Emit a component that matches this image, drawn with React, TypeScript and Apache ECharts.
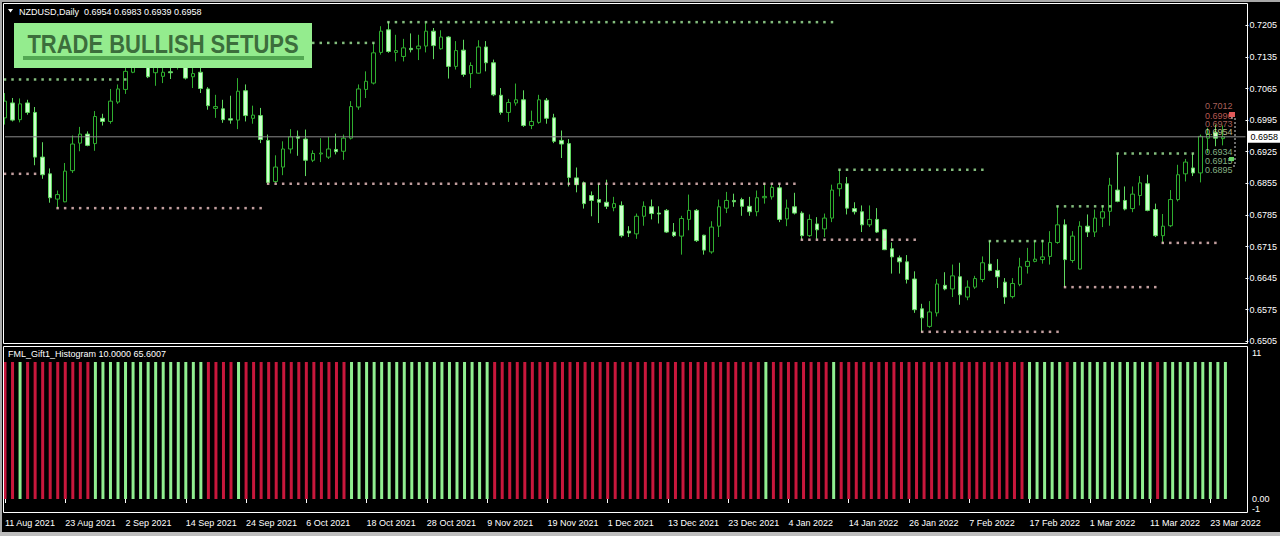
import React, { useEffect, useRef } from "react";
import * as echarts from "echarts";

const SYMBOL_TITLE = "NZDUSD,Daily";
const INDICATOR_TITLE = "FML_Gift1_Histogram 10.0000 65.6007";
const SETUP_BANNER = "TRADE BULLISH SETUPS";

// Daily NZDUSD bars starting 11 Aug 2021: [open, close, low, high]
const CANDLES: [number, number, number, number][] = [
  [0.7000, 0.7037, 0.6985, 0.7055], [0.7033, 0.6995, 0.6992, 0.7044], [0.6996, 0.7031, 0.6990, 0.7043],
  [0.7033, 0.7012, 0.7007, 0.7040], [0.7012, 0.6913, 0.6895, 0.7024], [0.6913, 0.6874, 0.6865, 0.6946],
  [0.6876, 0.6823, 0.6812, 0.6888], [0.6820, 0.6830, 0.6800, 0.6839], [0.6814, 0.6882, 0.6813, 0.6900],
  [0.6883, 0.6942, 0.6878, 0.6961], [0.6944, 0.6964, 0.6926, 0.6980], [0.6964, 0.6939, 0.6937, 0.6970],
  [0.6943, 0.7003, 0.6927, 0.7015], [0.6999, 0.6992, 0.6983, 0.7009], [0.6992, 0.7037, 0.6987, 0.7064],
  [0.7035, 0.7064, 0.7031, 0.7074], [0.7063, 0.7103, 0.7053, 0.7114], [0.7101, 0.7150, 0.7099, 0.7160],
  [0.7150, 0.7140, 0.7120, 0.7166], [0.7140, 0.7091, 0.7088, 0.7150], [0.7100, 0.7125, 0.7071, 0.7135],
  [0.7092, 0.7101, 0.7077, 0.7125], [0.7102, 0.7100, 0.7086, 0.7125], [0.7115, 0.7130, 0.7107, 0.7145],
  [0.7130, 0.7088, 0.7085, 0.7140], [0.7091, 0.7098, 0.7066, 0.7115], [0.7101, 0.7065, 0.7055, 0.7113],
  [0.7064, 0.7027, 0.7018, 0.7068], [0.7021, 0.7025, 0.7000, 0.7051], [0.7020, 0.6996, 0.6989, 0.7040],
  [0.6998, 0.6995, 0.6987, 0.7049], [0.6995, 0.7059, 0.6975, 0.7088], [0.7060, 0.7005, 0.6992, 0.7074],
  [0.6999, 0.7006, 0.6987, 0.7027], [0.7005, 0.6952, 0.6944, 0.7022], [0.6950, 0.6857, 0.6854, 0.6963],
  [0.6859, 0.6891, 0.6856, 0.6917], [0.6891, 0.6931, 0.6873, 0.6948], [0.6931, 0.6958, 0.6921, 0.6975],
  [0.6959, 0.6955, 0.6916, 0.6972], [0.6953, 0.6906, 0.6871, 0.6974], [0.6906, 0.6921, 0.6902, 0.6928],
  [0.6920, 0.6922, 0.6902, 0.6955], [0.6913, 0.6931, 0.6909, 0.6958], [0.6930, 0.6925, 0.6919, 0.6965],
  [0.6926, 0.6955, 0.6907, 0.6963], [0.6955, 0.7025, 0.6952, 0.7037], [0.7024, 0.7064, 0.7018, 0.7074],
  [0.7063, 0.7081, 0.7044, 0.7103], [0.7077, 0.7144, 0.7074, 0.7166], [0.7145, 0.7192, 0.7140, 0.7203],
  [0.7195, 0.7147, 0.7144, 0.7212], [0.7145, 0.7149, 0.7125, 0.7184], [0.7136, 0.7155, 0.7125, 0.7175],
  [0.7154, 0.7151, 0.7145, 0.7187], [0.7153, 0.7159, 0.7128, 0.7184], [0.7159, 0.7192, 0.7145, 0.7210],
  [0.7192, 0.7160, 0.7130, 0.7199], [0.7153, 0.7179, 0.7151, 0.7194], [0.7179, 0.7114, 0.7087, 0.7181],
  [0.7114, 0.7149, 0.7107, 0.7170], [0.7150, 0.7096, 0.7091, 0.7173], [0.7098, 0.7116, 0.7066, 0.7123],
  [0.7099, 0.7157, 0.7098, 0.7172], [0.7157, 0.7122, 0.7103, 0.7170], [0.7122, 0.7051, 0.7048, 0.7129],
  [0.7050, 0.7012, 0.7007, 0.7066], [0.7012, 0.7034, 0.6991, 0.7042], [0.7033, 0.7040, 0.7027, 0.7076],
  [0.7040, 0.6983, 0.6980, 0.7061], [0.6983, 0.6992, 0.6975, 0.7016], [0.6990, 0.7040, 0.6987, 0.7051],
  [0.7039, 0.6999, 0.6987, 0.7044], [0.7000, 0.6948, 0.6944, 0.7009], [0.6950, 0.6942, 0.6911, 0.6972],
  [0.6943, 0.6868, 0.6848, 0.6953], [0.6867, 0.6852, 0.6835, 0.6890], [0.6856, 0.6810, 0.6799, 0.6859],
  [0.6828, 0.6817, 0.6782, 0.6837], [0.6819, 0.6813, 0.6767, 0.6854], [0.6813, 0.6804, 0.6798, 0.6863],
  [0.6801, 0.6810, 0.6793, 0.6825], [0.6806, 0.6739, 0.6735, 0.6815], [0.6749, 0.6745, 0.6736, 0.6760],
  [0.6743, 0.6782, 0.6732, 0.6788], [0.6782, 0.6804, 0.6761, 0.6815], [0.6803, 0.6788, 0.6775, 0.6819],
  [0.6789, 0.6787, 0.6766, 0.6804], [0.6795, 0.6747, 0.6745, 0.6798], [0.6747, 0.6739, 0.6736, 0.6767],
  [0.6738, 0.6777, 0.6697, 0.6783], [0.6775, 0.6795, 0.6751, 0.6830], [0.6795, 0.6728, 0.6725, 0.6798],
  [0.6740, 0.6707, 0.6697, 0.6741], [0.6703, 0.6758, 0.6699, 0.6771], [0.6760, 0.6803, 0.6736, 0.6819],
  [0.6800, 0.6817, 0.6789, 0.6836], [0.6817, 0.6814, 0.6803, 0.6832], [0.6819, 0.6804, 0.6783, 0.6823],
  [0.6804, 0.6792, 0.6783, 0.6825], [0.6792, 0.6823, 0.6782, 0.6839], [0.6823, 0.6826, 0.6810, 0.6856],
  [0.6825, 0.6846, 0.6819, 0.6852], [0.6845, 0.6775, 0.6769, 0.6854], [0.6776, 0.6800, 0.6760, 0.6819],
  [0.6803, 0.6789, 0.6786, 0.6834], [0.6789, 0.6739, 0.6730, 0.6793], [0.6739, 0.6775, 0.6736, 0.6786],
  [0.6765, 0.6752, 0.6732, 0.6780], [0.6754, 0.6778, 0.6736, 0.6788], [0.6778, 0.6840, 0.6769, 0.6852],
  [0.6843, 0.6854, 0.6826, 0.6885], [0.6854, 0.6800, 0.6786, 0.6869], [0.6799, 0.6792, 0.6786, 0.6813],
  [0.6792, 0.6763, 0.6747, 0.6806], [0.6763, 0.6775, 0.6758, 0.6806], [0.6775, 0.6747, 0.6745, 0.6800],
  [0.6752, 0.6708, 0.6707, 0.6754], [0.6710, 0.6692, 0.6655, 0.6724], [0.6690, 0.6681, 0.6655, 0.6695],
  [0.6681, 0.6642, 0.6633, 0.6696], [0.6643, 0.6575, 0.6568, 0.6660], [0.6577, 0.6557, 0.6526, 0.6588],
  [0.6538, 0.6570, 0.6535, 0.6594], [0.6568, 0.6632, 0.6560, 0.6643], [0.6629, 0.6621, 0.6618, 0.6658],
  [0.6621, 0.6650, 0.6603, 0.6675], [0.6648, 0.6608, 0.6586, 0.6679], [0.6603, 0.6625, 0.6596, 0.6640],
  [0.6625, 0.6644, 0.6621, 0.6650], [0.6642, 0.6679, 0.6636, 0.6693], [0.6676, 0.6662, 0.6660, 0.6727],
  [0.6662, 0.6648, 0.6623, 0.6687], [0.6636, 0.6603, 0.6588, 0.6645], [0.6604, 0.6633, 0.6600, 0.6645],
  [0.6631, 0.6670, 0.6627, 0.6690], [0.6671, 0.6682, 0.6655, 0.6712], [0.6682, 0.6687, 0.6680, 0.6727],
  [0.6686, 0.6692, 0.6677, 0.6730], [0.6693, 0.6724, 0.6675, 0.6749], [0.6724, 0.6763, 0.6721, 0.6804],
  [0.6763, 0.6686, 0.6625, 0.6775], [0.6684, 0.6738, 0.6679, 0.6749], [0.6665, 0.6760, 0.6664, 0.6771],
  [0.6760, 0.6747, 0.6736, 0.6786], [0.6747, 0.6778, 0.6736, 0.6797], [0.6778, 0.6792, 0.6758, 0.6806],
  [0.6793, 0.6851, 0.6761, 0.6867], [0.6840, 0.6815, 0.6813, 0.6921], [0.6817, 0.6798, 0.6795, 0.6848],
  [0.6799, 0.6831, 0.6791, 0.6848], [0.6828, 0.6856, 0.6806, 0.6871], [0.6854, 0.6795, 0.6793, 0.6874],
  [0.6797, 0.6739, 0.6736, 0.6810], [0.6739, 0.6760, 0.6723, 0.6787], [0.6761, 0.6819, 0.6758, 0.6840],
  [0.6819, 0.6874, 0.6815, 0.6896], [0.6876, 0.6902, 0.6859, 0.6909], [0.6889, 0.6878, 0.6871, 0.6921],
  [0.6878, 0.6959, 0.6857, 0.6963], [0.6955, 0.6964, 0.6922, 0.6978], [0.6967, 0.6955, 0.6937, 0.6985],
  [0.6954, 0.6958, 0.6939, 0.6983],
];

// One label every 8 bars along the time axis
const DATE_LABELS = [
  "11 Aug 2021", "23 Aug 2021", "2 Sep 2021", "14 Sep 2021", "24 Sep 2021", "6 Oct 2021",
  "18 Oct 2021", "28 Oct 2021", "9 Nov 2021", "19 Nov 2021", "1 Dec 2021", "13 Dec 2021",
  "23 Dec 2021", "4 Jan 2022", "14 Jan 2022", "26 Jan 2022", "7 Feb 2022", "17 Feb 2022",
  "1 Mar 2022", "11 Mar 2022", "23 Mar 2022",
];
const BARS_PER_LABEL = 8;
const EMPTY_BARS_RIGHT = 3;

// Histogram state per bar: G = bullish, R = bearish; every column is drawn at HIST_VALUE
const HIST_STATE = [
  "RR", "G", "RRRRRRRRR",
  "GGGGGGGGGG" + "GGGGG",
  "RRRR", "G",
  "RRRRRRRRRR" + "RRRR",
  "GGGGGGGGGG" + "GGGGGGGGG",
  "RRRRRRRRRR" + "RRRRRRRRRR" + "RRRRRRRRRR" + "RRRRRR",
  "G", "RRRRRRRR", "G",
  "RRRRRRRRRR" + "RRRRRRRRRR" + "RRRRR",
  "GGGGG", "R",
  "GGGGGGGGGG" + "G",
  "R",
  "GGGGGGGGG",
].join("").split("");
const HIST_VALUE = 10;

// Swing levels, drawn as one dot per bar: [fromBar, toBar, price]
const RESISTANCE_LEVELS: [number, number, number][] = [
  [0, 16, 0.7085], [18, 49, 0.7166], [51, 110, 0.7212], [111, 130, 0.6885],
  [131, 138, 0.6727], [140, 147, 0.6804], [148, 158, 0.6921],
];
const SUPPORT_LEVELS: [number, number, number][] = [
  [0, 4, 0.6876], [7, 34, 0.6800], [35, 105, 0.6854], [106, 121, 0.6730],
  [122, 140, 0.6526], [141, 153, 0.6625], [154, 161, 0.6723],
];

// Price tags at the right edge of the latest bars
const TAGS_ABOVE = [0.7012, 0.6990, 0.6973, 0.6954];
const TAGS_BELOW = [0.6934, 0.6915, 0.6895];
const TAG_ANCHOR_BAR = 163;

const PRICE_MIN = 0.6505;
const PRICE_MAX = 0.72522;
const PRICE_STEP = 0.007;

const FONT = '"Liberation Sans", Arial, sans-serif';
const BULL_GREEN = "#90ee90";
const BEAR_RED = "#c8173c";

function levelDots(levels: [number, number, number][]) {
  const pts: [number, number][] = [];
  levels.forEach(([from, to, price]) => {
    for (let b = from; b <= to; b++) pts.push([b, price]);
  });
  return pts;
}

function buildOption(): echarts.EChartsOption {
  const barCount = CANDLES.length + EMPTY_BARS_RIGHT;
  const categories = Array.from({ length: barCount }, (_, i) => String(i));
  const last = CANDLES[CANDLES.length - 1];
  const lastClose = last[1];
  const header = `${SYMBOL_TITLE}  ${[last[0], last[3], last[2], last[1]].map((v) => v.toFixed(4)).join(" ")}`;
  const tagColorsAbove = ["#d27a70", "#e07068", "#d27a70", "#e8e6b8"];
  const tagColorBelow = "#a6dca6";

  return {
    animation: false,
    backgroundColor: "#000000",
    grid: [
      { left: 5, right: 32, top: 4, height: 337.3 },
      { left: 5, right: 32, top: 348.3, height: 164.4 },
    ],
    xAxis: [
      { type: "category", gridIndex: 0, data: categories, boundaryGap: false, show: false },
      {
        type: "category",
        gridIndex: 1,
        data: categories,
        boundaryGap: false,
        axisLine: { show: false },
        axisTick: { show: true, interval: BARS_PER_LABEL - 1, length: 4, lineStyle: { color: "#ffffff" } },
        axisLabel: {
          interval: BARS_PER_LABEL - 1,
          align: "left",
          margin: 6,
          color: "#ffffff",
          fontSize: 9,
          fontFamily: FONT,
          formatter: (v: string) => {
            const i = Number(v);
            return i % BARS_PER_LABEL === 0 ? DATE_LABELS[i / BARS_PER_LABEL] ?? "" : "";
          },
        },
        splitLine: { show: false },
      },
    ],
    yAxis: [
      {
        type: "value",
        gridIndex: 0,
        position: "right",
        min: PRICE_MIN,
        max: PRICE_MAX,
        interval: PRICE_STEP,
        axisLine: { show: false },
        axisTick: { show: true, length: 3, lineStyle: { color: "#ffffff" } },
        axisLabel: {
          color: "#ffffff",
          fontSize: 9,
          fontFamily: FONT,
          margin: 4,
          showMaxLabel: false,
          formatter: (v: number) => v.toFixed(4),
        },
        splitLine: { show: false },
      },
      {
        type: "value",
        gridIndex: 1,
        position: "right",
        min: -1,
        max: 11,
        interval: 1,
        axisLine: { show: false },
        axisTick: { show: false },
        axisLabel: {
          color: "#ffffff",
          fontSize: 9,
          fontFamily: FONT,
          margin: 4,
          formatter: (v: number) => (Math.abs(v) < 1e-9 ? "0.00" : ""),
        },
        splitLine: { show: false },
      },
    ],
    series: [
      // current bid line with its tag on the price scale
      {
        type: "line",
        xAxisIndex: 0,
        yAxisIndex: 0,
        silent: true,
        symbol: "none",
        lineStyle: { color: "#8a8a8a", width: 1 },
        data: [
          [0, lastClose],
          [barCount - 1, lastClose],
        ],
        endLabel: {
          show: true,
          distance: 2,
          formatter: () => lastClose.toFixed(4),
          backgroundColor: "#ffffff",
          color: "#000000",
          fontSize: 9,
          fontFamily: FONT,
          padding: [2, 4, 1, 3],
        },
      },
      {
        type: "candlestick",
        xAxisIndex: 0,
        yAxisIndex: 0,
        data: CANDLES,
        barWidth: 4,
        itemStyle: {
          color: "#000000",
          color0: "#ccffcc",
          borderColor: "#2fae2f",
          borderColor0: "#5fd85f",
          borderWidth: 1,
        },
      },
      {
        type: "scatter",
        xAxisIndex: 0,
        yAxisIndex: 0,
        silent: true,
        symbol: "rect",
        symbolSize: 2.5,
        itemStyle: { color: "#a4ec9c" },
        data: levelDots(RESISTANCE_LEVELS),
      },
      {
        type: "scatter",
        xAxisIndex: 0,
        yAxisIndex: 0,
        silent: true,
        symbol: "rect",
        symbolSize: 2.5,
        itemStyle: { color: "#f2c6c6" },
        data: levelDots(SUPPORT_LEVELS),
      },
      {
        type: "scatter",
        xAxisIndex: 0,
        yAxisIndex: 0,
        silent: true,
        symbolSize: 0,
        data: TAGS_ABOVE.map((p, k) => ({
          value: [TAG_ANCHOR_BAR, p],
          label: { color: tagColorsAbove[k] },
        })),
        label: {
          show: true,
          position: "inside",
          align: "right",
          verticalAlign: "bottom",
          offset: [2, -2],
          fontSize: 9,
          fontFamily: FONT,
          formatter: (p: any) => p.value[1].toFixed(4),
        },
      },
      {
        type: "scatter",
        xAxisIndex: 0,
        yAxisIndex: 0,
        silent: true,
        symbolSize: 0,
        data: TAGS_BELOW.map((p) => [TAG_ANCHOR_BAR, p]),
        label: {
          show: true,
          position: "inside",
          align: "right",
          verticalAlign: "top",
          offset: [2, 0],
          color: tagColorBelow,
          fontSize: 9,
          fontFamily: FONT,
          formatter: (p: any) => p.value[1].toFixed(4),
        },
      },
      {
        type: "bar",
        xAxisIndex: 1,
        yAxisIndex: 1,
        barWidth: 3,
        silent: true,
        data: HIST_STATE.map((s) => ({
          value: HIST_VALUE,
          itemStyle: { color: s === "G" ? BULL_GREEN : BEAR_RED },
        })),
      },
    ],
    graphic: [
      // window edges
      { type: "rect", shape: { x: 0, y: 0, width: 1280, height: 2 }, style: { fill: "#a8a8a8" }, z: 50 },
      { type: "rect", shape: { x: 0, y: 0, width: 2, height: 536 }, style: { fill: "#a8a8a8" }, z: 50 },
      { type: "rect", shape: { x: 0, y: 532, width: 1280, height: 4 }, style: { fill: "#bdbdbd" }, z: 50 },
      // pane frames
      {
        type: "rect",
        shape: { x: 3.5, y: 3.5, width: 1244, height: 340 },
        style: { fill: "none", stroke: "#ffffff", lineWidth: 1 },
        z: 50,
      },
      {
        type: "rect",
        shape: { x: 3.5, y: 346.5, width: 1244, height: 166 },
        style: { fill: "none", stroke: "#ffffff", lineWidth: 1 },
        z: 50,
      },
      // chart header
      {
        type: "polygon",
        shape: { points: [[8, 9], [13, 9], [10.5, 12.5]] },
        style: { fill: "#ffffff" },
        z: 60,
      },
      {
        type: "text",
        x: 19,
        y: 11.5,
        style: { text: header, font: `9px ${FONT}`, fill: "#ffffff", verticalAlign: "middle" },
        z: 60,
      },
      // indicator caption and range labels
      {
        type: "text",
        x: 8,
        y: 353.5,
        style: { text: INDICATOR_TITLE, font: `9px ${FONT}`, fill: "#ffffff", verticalAlign: "middle" },
        z: 60,
      },
      {
        type: "text",
        x: 1252,
        y: 352.5,
        style: { text: "11", font: `9px ${FONT}`, fill: "#ffffff", verticalAlign: "middle" },
        z: 60,
      },
      {
        type: "text",
        x: 1252,
        y: 509,
        style: { text: "-1", font: `9px ${FONT}`, fill: "#ffffff", verticalAlign: "middle" },
        z: 60,
      },
      // setup banner
      { type: "rect", shape: { x: 14, y: 23, width: 298, height: 45 }, style: { fill: "#94ec8e" }, z: 100 },
      { type: "rect", shape: { x: 23, y: 56, width: 281, height: 4 }, style: { fill: "#52a852" }, z: 101 },
      {
        type: "text",
        x: 163,
        y: 43.5,
        scaleY: 1.18,
        style: {
          text: SETUP_BANNER,
          font: `bold 22px ${FONT}`,
          fill: "#3c6e3c",
          align: "center",
          verticalAlign: "middle",
        },
        z: 101,
      },
      // bracket marks beside the price tags
      { type: "rect", shape: { x: 1229, y: 112, width: 6, height: 5 }, style: { fill: "#e05a5a" }, z: 60 },
      {
        type: "polyline",
        shape: { points: [[1231, 118], [1235, 118], [1235, 166], [1231, 166]] },
        style: { stroke: "#d8d8d8", lineWidth: 1, lineDash: [2, 2], fill: "none" },
        z: 60,
      },
      { type: "rect", shape: { x: 1229, y: 157, width: 5, height: 4 }, style: { fill: "#66d466" }, z: 60 },
    ],
  } as echarts.EChartsOption;
}

export default function App() {
  const ref = useRef<HTMLDivElement>(null);
  useEffect(() => {
    if (!ref.current) return;
    const chart = echarts.init(ref.current, undefined, { renderer: "svg" });
    chart.setOption(buildOption());
    return () => chart.dispose();
  }, []);
  return (
    <div
      ref={ref}
      style={{ position: "fixed", left: 0, top: 0, width: 1280, height: 536, background: "#000000" }}
    />
  );
}
